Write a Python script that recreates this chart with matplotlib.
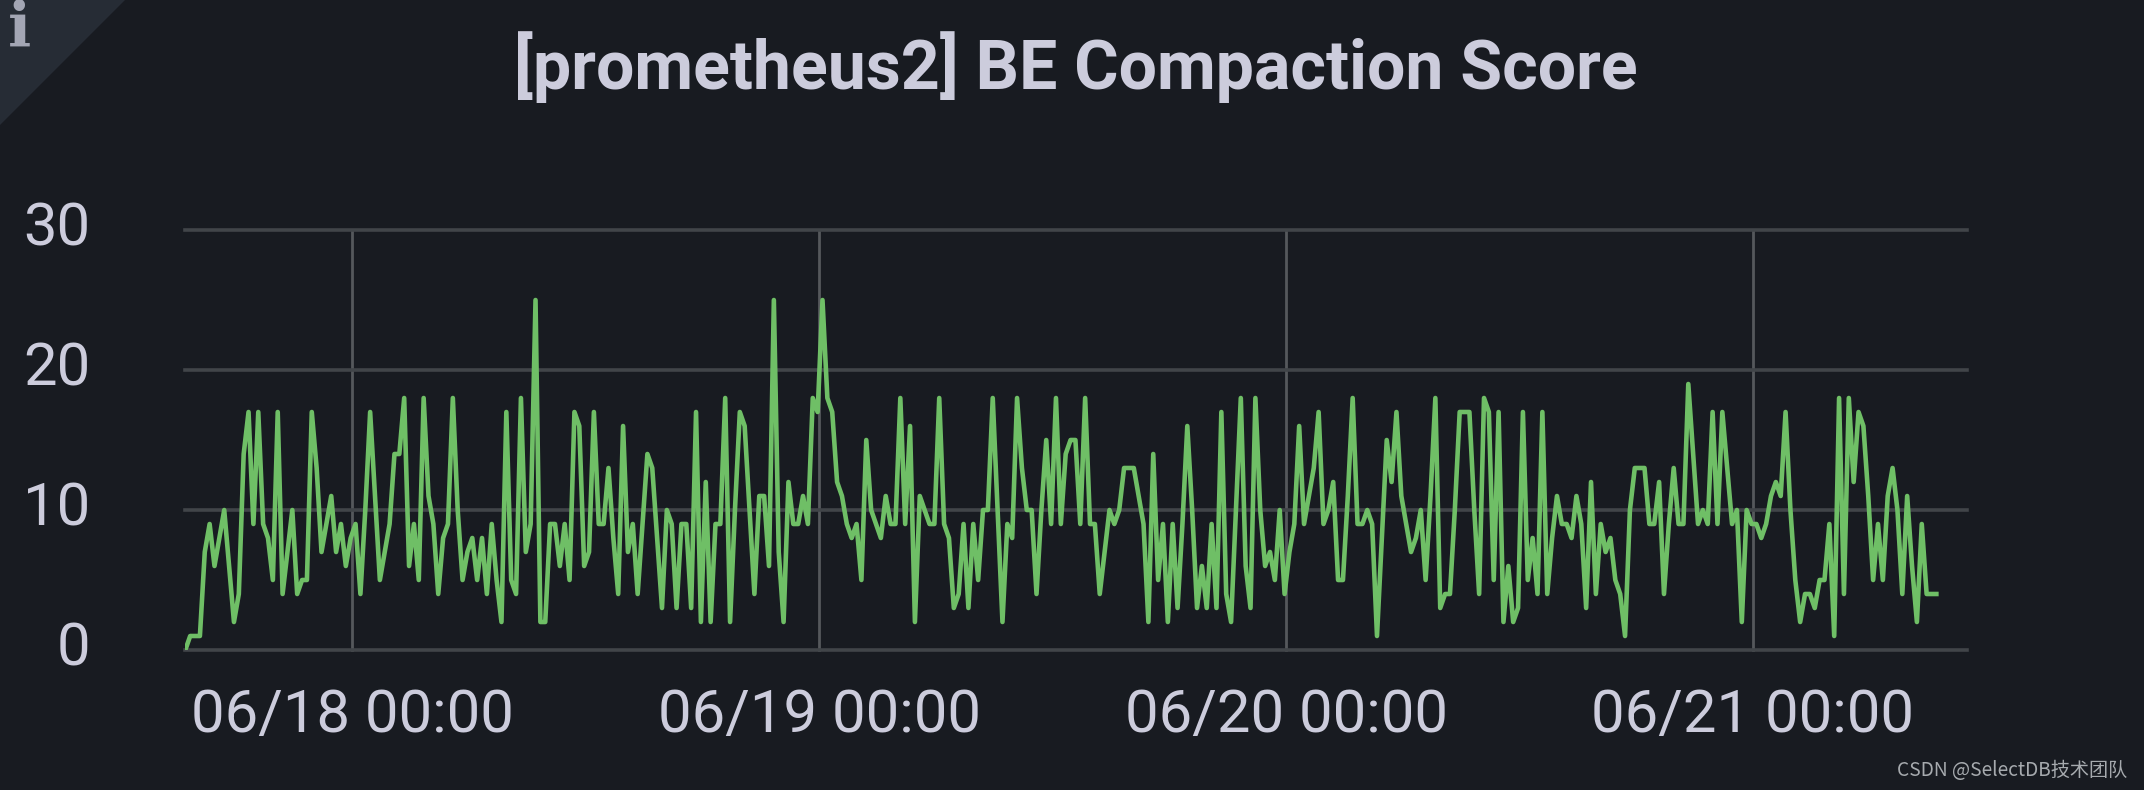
import matplotlib
matplotlib.use('Agg')
import matplotlib.pyplot as plt
import matplotlib.dates as mdates
import pandas as pd
from matplotlib.patches import Polygon
from matplotlib.transforms import ScaledTranslation

title = '[prometheus2] BE Compaction Score'
watermark = 'CSDN @SelectDB技术团队'
y_ticks = [0, 10, 20, 30]
day_ticks = ['2023-06-18', '2023-06-19', '2023-06-20', '2023-06-21']

# one sample every 15 minutes
first_sample = '2023-06-17 15:25:30'
scores = [
    0, 1, 1, 1, 7, 9, 6, 8, 10, 6, 2, 4, 14, 17, 9, 17, 9, 8, 5, 17,
    4, 7, 10, 4, 5, 5, 17, 13, 7, 9, 11, 7, 9, 6,
    8, 9, 4, 10, 17, 11, 5, 7, 9, 14, 14, 18, 6, 9, 5, 18,
    11, 9, 4, 8, 9, 18, 10, 5, 7, 8, 5, 8, 4, 9, 5, 2, 17, 5, 4, 18,
    7, 9, 25, 2, 2, 9, 9, 6, 9, 5, 17, 16, 6, 7, 17, 9, 9, 13, 8, 4,
    16, 7, 9, 4, 9, 14, 13, 8, 3, 10, 9, 3, 9, 9, 3, 17, 2, 12, 2, 9,
    9, 18, 2, 10, 17, 16, 10, 4, 11, 11, 6, 25, 7, 2, 12, 9, 9, 11, 9, 18,
    17, 25, 18, 17, 12, 11, 9, 8, 9, 5, 15, 10, 9, 8, 11, 9, 9, 18, 9, 16,
    2, 11, 10, 9, 9, 18, 9, 8, 3, 4, 9, 3, 9, 5, 10, 10, 18, 10, 2, 9,
    8, 18, 13, 10, 10, 4, 10, 15, 9, 18, 9, 14, 15, 15, 9, 18, 9, 9, 4, 7,
    10, 9, 10, 13, 13, 13, 11, 9, 2, 14, 5, 9, 2, 9, 3, 9, 16, 10, 3, 6,
    3, 9, 3, 17, 4, 2, 10, 18, 6, 3, 18, 10, 6, 7, 5, 10, 4, 7, 9, 16,
    9, 11, 13, 17, 9, 10, 12, 5, 5, 11, 18, 9, 9, 10, 9, 1, 8, 15, 12, 17,
    11, 9, 7, 8, 10, 5, 11, 18, 3, 4, 4, 10, 17, 17, 17, 10, 4, 18, 17, 5,
    17, 2, 6, 2, 3, 17, 5, 8, 4, 17, 4, 8, 11, 9, 9, 8, 11, 9, 3, 12,
    4, 9, 7, 8, 5, 4, 1, 10, 13, 13, 13, 9, 9, 12, 4, 9, 13, 9, 9, 19,
    14, 9, 10, 9, 17, 9, 17, 13, 9, 10, 2, 10, 9, 9, 8, 9, 11, 12, 11, 17,
    10, 5, 2, 4, 4, 3, 5, 5, 9, 1, 18, 4, 18, 12, 17, 16, 11, 5, 9, 5,
    11, 13, 10, 4, 11, 6, 2, 9, 4, 4, 4,
]

times = pd.date_range(first_sample, periods=len(scores), freq='15min')

bg = '#181b21'
text_color = '#ccccdc'

plt.rcParams['font.family'] = ['Roboto', 'DejaVu Sans']

fig = plt.figure(figsize=(21.44, 7.9), dpi=100, facecolor=bg)
ax = fig.add_axes([184.5 / 2144, 1 - 650 / 790, (1967 - 184.5) / 2144, (650 - 230) / 790])
ax.set_facecolor(bg)

ax.plot(times, scores, color='#6fbf66', lw=3.3, solid_joinstyle='round', zorder=3)

ax.set_xlim(pd.Timestamp('2023-06-17 15:23'), pd.Timestamp('2023-06-21 11:00'))
ax.set_ylim(0, 30)
ax.set_yticks(y_ticks)
ax.set_xticks([mdates.date2num(pd.Timestamp(d)) for d in day_ticks])
ax.xaxis.set_major_formatter(mdates.DateFormatter('%m/%d %H:%M'))
ax.tick_params(axis='both', length=0, labelsize=43, labelcolor=text_color)
ax.tick_params(axis='y', pad=68)
ax.tick_params(axis='x', pad=27)

# y labels sit a little above their grid lines
shift_up = ScaledTranslation(0, 5 / 72, fig.dpi_scale_trans)
for label in ax.get_yticklabels():
    label.set_transform(label.get_transform() + shift_up)

ax.grid(axis='y', color='#414549', lw=2.6, zorder=1)
ax.grid(axis='x', color='#55585c', lw=2.0, zorder=1)
for line in ax.get_xgridlines() + ax.get_ygridlines():
    line.set_clip_on(False)
ax.set_axisbelow(True)
for side in ax.spines:
    ax.spines[side].set_visible(False)

# info corner of the panel
fig.add_artist(Polygon([[0, 1], [125 / 2144, 1], [0, 1 - 125 / 790]], closed=True,
                       transform=fig.transFigure, facecolor='#262c35', edgecolor='none'))
fig.text(19 / 2144, 1 - 29 / 790, 'i', family=['DejaVu Serif'], weight='bold', fontsize=44,
         color='#a3a6b4', ha='center', va='center')

fig.text(1076 / 2144, 1 - 67 / 790, title, fontsize=49, weight='bold', color=text_color,
         ha='center', va='center')
fig.text(2127 / 2144, 1 - 770 / 790, watermark, family=['Noto Sans CJK SC', 'DejaVu Sans'],
         fontsize=13.8, color='#a6aaae', ha='right', va='center')

fig.savefig('out.png', dpi=100, facecolor=bg)
